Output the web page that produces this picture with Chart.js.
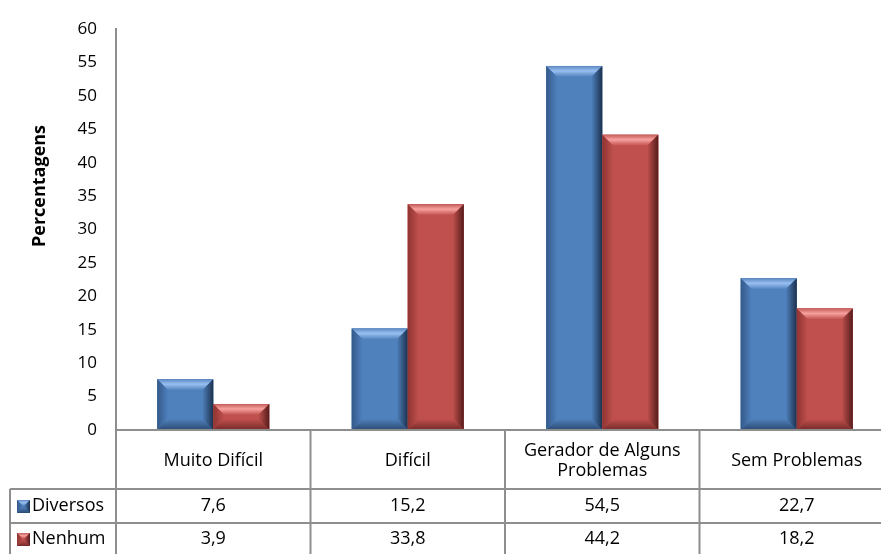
<!DOCTYPE html>
<html>
<head>
<meta charset="utf-8">
<script src="https://cdn.jsdelivr.net/npm/chart.js@4.4.1/dist/chart.umd.min.js"></script>
<style>
  html, body { margin: 0; padding: 0; background: #fff; overflow: hidden; }
  #wrap { width: 895px; height: 554px; }
</style>
</head>
<body>
<div id="wrap"><canvas id="chart" width="895" height="554"></canvas></div>
<script>
// --- data ---
const categories = ['Muito Difícil', 'Difícil', ['Gerador de Alguns', 'Problemas'], 'Sem Problemas'];
const diversos = [7.6, 15.2, 54.5, 22.7];
const nenhum = [3.9, 33.8, 44.2, 18.2];
const seriesNames = ['Diversos', 'Nenhum'];
const yTicks = { min: 0, max: 60, step: 5 };
const yTitle = 'Percentagens';

const FONT = '"Open Sans", "Noto Sans", sans-serif';
const LINE = '#8e8e8e';

// colour sets for the bevelled bars
const palettes = [
  { face: '#4f81bd', topEdge: '#5d88c2', topHi: '#98bff0', left: '#34598a', right: '#1c314d', bottom: '#2b4a72' },
  { face: '#c0504d', topEdge: '#c35c59', topHi: '#f7a19e', left: '#8e3432', right: '#551c1b', bottom: '#752a28' }
];

function poly(ctx, pts, fill) {
  ctx.beginPath();
  ctx.moveTo(pts[0][0], pts[0][1]);
  for (let i = 1; i < pts.length; i++) ctx.lineTo(pts[i][0], pts[i][1]);
  ctx.closePath();
  ctx.fillStyle = fill;
  ctx.fill();
}

function grad(ctx, x0, y0, x1, y1, stops) {
  const g = ctx.createLinearGradient(x0, y0, x1, y1);
  stops.forEach(s => g.addColorStop(s[0], s[1]));
  return g;
}

// draws a box with a soft bevel on all four sides
function bevelBox(ctx, l, t, r, b, pal, size) {
  const h = b - t, w = r - l;
  const k = Math.min(size, h / 2, w / 2);
  ctx.fillStyle = pal.face;
  ctx.fillRect(l, t, w, h);
  poly(ctx, [[l, t], [r, t], [r - k, t + k], [l + k, t + k]],
    grad(ctx, 0, t, 0, t + k, [[0, pal.topEdge], [0.45, pal.topHi], [1, pal.face]]));
  poly(ctx, [[l, t], [l + k, t + k], [l + k, b - k], [l, b]],
    grad(ctx, l, 0, l + k, 0, [[0, pal.left], [1, pal.face]]));
  poly(ctx, [[r, t], [r, b], [r - k, b - k], [r - k, t + k]],
    grad(ctx, r, 0, r - k, 0, [[0, pal.right], [1, pal.face]]));
  poly(ctx, [[l, b], [l + k, b - k], [r - k, b - k], [r, b]],
    grad(ctx, 0, b, 0, b - k, [[0, pal.bottom], [1, pal.face]]));
}

const fmt = v => v.toFixed(1).replace('.', ',');

// bevel pass over the bars Chart.js laid out
const bevelPlugin = {
  id: 'bevel',
  afterDatasetsDraw(chart) {
    const ctx = chart.ctx;
    ctx.save();
    chart.data.datasets.forEach((ds, di) => {
      chart.getDatasetMeta(di).data.forEach(bar => {
        const p = bar.getProps(['x', 'y', 'base', 'width'], true);
        bevelBox(ctx, p.x - p.width / 2, p.y, p.x + p.width / 2, p.base, palettes[di], 11);
      });
    });
    ctx.restore();
  }
};

// data table under the plot plus the rotated axis title
const tablePlugin = {
  id: 'dataTable',
  afterDraw(chart) {
    const ctx = chart.ctx;
    const area = chart.chartArea;
    const xs = chart.scales.x;
    const n = categories.length;
    const colW = (area.right - area.left) / n;
    const tableLeft = 10;
    const rowTop = area.bottom;
    const row1 = rowTop + 59;
    const row2 = row1 + 34;
    const bottom = chart.height + 2;

    ctx.save();
    ctx.strokeStyle = LINE;
    ctx.lineWidth = 2;
    ctx.beginPath();
    // x axis / top of category row
    ctx.moveTo(area.left, rowTop); ctx.lineTo(area.right, rowTop);
    ctx.moveTo(tableLeft, row1); ctx.lineTo(area.right, row1);
    ctx.moveTo(tableLeft, row2); ctx.lineTo(area.right, row2);
    ctx.moveTo(tableLeft, row1); ctx.lineTo(tableLeft, bottom);
    for (let i = 0; i <= n; i++) {
      const x = area.left + i * colW;
      ctx.moveTo(x, i === 0 ? area.top : rowTop);
      ctx.lineTo(x, bottom);
    }
    ctx.stroke();

    ctx.fillStyle = '#000';
    ctx.font = '18px ' + FONT;
    ctx.textAlign = 'center';
    ctx.textBaseline = 'middle';
    categories.forEach((c, i) => {
      const cx = xs.getPixelForValue(i);
      const lines = Array.isArray(c) ? c : [c];
      const lh = 20;
      const y0 = rowTop + 31 - (lines.length - 1) * lh / 2;
      lines.forEach((ln, j) => ctx.fillText(ln, cx, y0 + j * lh));
    });

    const rows = [diversos, nenhum];
    const rowMid = [row1 + 17, row2 + 16];
    rows.forEach((vals, r) => {
      ctx.fillStyle = '#000';
      vals.forEach((v, i) => ctx.fillText(fmt(v), xs.getPixelForValue(i), rowMid[r]));
      bevelBox(ctx, 17, rowMid[r] - 6, 30, rowMid[r] + 7, palettes[r], 6);
      ctx.textAlign = 'left';
      ctx.fillStyle = '#000';
      ctx.fillText(seriesNames[r], 32, rowMid[r]);
      ctx.textAlign = 'center';
    });

    ctx.translate(40, 186);
    ctx.rotate(-Math.PI / 2);
    ctx.font = 'bold 18px ' + FONT;
    ctx.fillText(yTitle, 0, 0);
    ctx.restore();
  }
};

new Chart(document.getElementById('chart'), {
  type: 'bar',
  data: {
    labels: categories,
    datasets: [
      { label: seriesNames[0], data: diversos, backgroundColor: palettes[0].face },
      { label: seriesNames[1], data: nenhum, backgroundColor: palettes[1].face }
    ]
  },
  options: {
    responsive: false,
    animation: false,
    layout: { padding: { top: 25, bottom: 124, right: 1, left: 0 } },
    datasets: { bar: { categoryPercentage: 0.576, barPercentage: 1.0 } },
    plugins: { legend: { display: false }, tooltip: { enabled: false } },
    scales: {
      x: { display: false },
      y: {
        min: yTicks.min,
        max: yTicks.max,
        afterFit(scale) { scale.width = 116; },
        ticks: {
          stepSize: yTicks.step,
          color: '#000',
          padding: 19,
          font: { family: FONT, size: 17 }
        },
        grid: { display: false, drawTicks: false },
        border: { display: true, color: LINE, width: 2 }
      }
    }
  },
  plugins: [bevelPlugin, tablePlugin]
});
</script>
</body>
</html>
